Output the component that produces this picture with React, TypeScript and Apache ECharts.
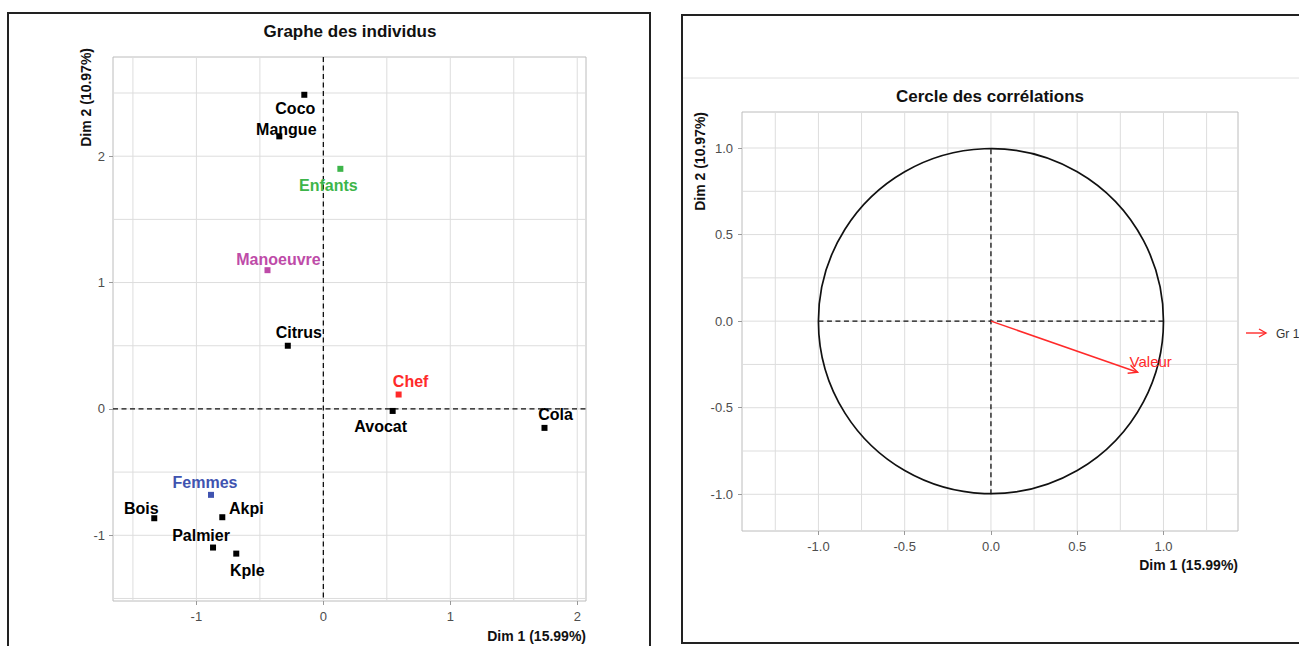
import React, { useEffect, useRef } from "react";
import * as echarts from "echarts";

// ---------- data ----------
const individuals = ["Coco", "Mangue", "Citrus", "Avocat", "Cola", "Bois", "Akpi", "Palmier", "Kple"];
const indDim1 = [-0.15, -0.347, -0.28, 0.546, 1.742, -1.332, -0.796, -0.869, -0.686];
const indDim2 = [2.486, 2.157, 0.5, -0.016, -0.15, -0.865, -0.857, -1.097, -1.145];

const groups = ["Enfants", "Manoeuvre", "Chef", "Femmes"];
const grpDim1 = [0.134, -0.44, 0.593, -0.885];
const grpDim2 = [1.9, 1.098, 0.114, -0.68];

const indTicksX = [-1, 0, 1, 2];
const indTicksY = [-1, 0, 1, 2];
const indGridX = [-1.5, -1, -0.5, 0, 0.5, 1, 1.5, 2];
const indGridY = [-1.5, -1, -0.5, 0, 0.5, 1, 1.5, 2, 2.5];
const zeroLine = [0];

const varNames = ["Valeur"];
const varDim1 = [0.85];
const varDim2 = [-0.295];
const circleRadius = [1];
const corTicks = [-1, -0.5, 0, 0.5, 1];
const corGridX = [-1.25, -1, -0.75, -0.5, -0.25, 0, 0.25, 0.5, 0.75, 1, 1.25];
const corGridY = [-1, -0.75, -0.5, -0.25, 0, 0.25, 0.5, 0.75, 1];
const corAxisSegments = [
  [-1, 0, 1, 0],
  [0, -1, 0, 1],
];
const legendLabels = ["Gr 1"];

// ---------- styles ----------
const FONT = '"Liberation Sans", Arial, Helvetica, sans-serif';
const groupColors = ["#3DB54A", "#BE4BA8", "#FF2A2A", "#4053B0"];
const RED = "#FF2A2A";
const indLabelOffsets = [
  [-9, 14], [7, -7], [11, -13], [-12, 16], [11, -13], [-13, -10], [24, -9], [-12, -12], [11, 17],
];
const grpLabelOffsets = [[-12, 17], [11, -11], [12, -13], [-6, -12]];
const GRID_STYLE = { stroke: "#dddddd", lineWidth: 1 };
const DASH_STYLE = { stroke: "#111", lineWidth: 1.3, lineDash: [5, 3.5] };

function vLines(ax: number, values: number[], style: any, z = 1) {
  return {
    type: "custom",
    xAxisIndex: ax,
    yAxisIndex: ax,
    silent: true,
    z,
    data: values.map((v) => [v, 0]),
    renderItem: (params: any, api: any) => {
      const cs = params.coordSys;
      const x = api.coord([api.value(0), 0])[0];
      return { type: "line", shape: { x1: x, y1: cs.y, x2: x, y2: cs.y + cs.height }, style };
    },
  };
}
function hLines(ax: number, values: number[], style: any, z = 1) {
  return {
    type: "custom",
    xAxisIndex: ax,
    yAxisIndex: ax,
    silent: true,
    z,
    data: values.map((v) => [0, v]),
    renderItem: (params: any, api: any) => {
      const cs = params.coordSys;
      const y = api.coord([0, api.value(1)])[1];
      return { type: "line", shape: { x1: cs.x, y1: y, x2: cs.x + cs.width, y2: y }, style };
    },
  };
}

function axisCommon(ticks: number[], fmt: (v: number) => string, margin: number) {
  return {
    type: "value",
    axisLine: { show: false, onZero: false },
    splitLine: { show: false },
    axisTick: { show: true, customValues: ticks, length: 4, lineStyle: { color: "#999" } },
    axisLabel: {
      customValues: ticks,
      color: "#4d4d4d",
      fontSize: 13,
      fontFamily: FONT,
      margin,
      formatter: (v: number) => fmt(v),
    },
  };
}

export default function App() {
  const ref = useRef<HTMLDivElement>(null);
  useEffect(() => {
    if (!ref.current) return;
    const chart = echarts.init(ref.current, null, { renderer: "svg" });
    const intFmt = (v: number) => String(Math.round(v));
    const decFmt = (v: number) => v.toFixed(1);

    const option: any = {
      animation: false,
      backgroundColor: "#fff",
      textStyle: { fontFamily: FONT },
      grid: [
        { left: 113, top: 57, width: 473, height: 544, show: true, borderColor: "#bcbcbc", borderWidth: 1, backgroundColor: "transparent" },
        { left: 742, top: 112, width: 496, height: 419, show: true, borderColor: "#bcbcbc", borderWidth: 1, backgroundColor: "transparent" },
      ],
      xAxis: [
        { ...axisCommon(indTicksX, intFmt, 9), gridIndex: 0, min: -1.657, max: 2.069 },
        { ...axisCommon(corTicks, decFmt, 9), gridIndex: 1, min: -1.443, max: 1.432 },
      ],
      yAxis: [
        { ...axisCommon(indTicksY, intFmt, 8), gridIndex: 0, min: -1.52, max: 2.785 },
        { ...axisCommon(corTicks, decFmt, 9), gridIndex: 1, min: -1.212, max: 1.208 },
      ],
      series: [
        vLines(0, indGridX, GRID_STYLE),
        hLines(0, indGridY, GRID_STYLE),
        vLines(0, zeroLine, DASH_STYLE, 2),
        hLines(0, zeroLine, DASH_STYLE, 2),
        vLines(1, corGridX, GRID_STYLE),
        hLines(1, corGridY, GRID_STYLE),
        {
          type: "custom",
          xAxisIndex: 1,
          yAxisIndex: 1,
          silent: true,
          z: 2,
          encode: { x: [0, 2], y: [1, 3] },
          data: corAxisSegments,
          renderItem: (params: any, api: any) => {
            const a = api.coord([api.value(0), api.value(1)]);
            const b = api.coord([api.value(2), api.value(3)]);
            return { type: "line", shape: { x1: a[0], y1: a[1], x2: b[0], y2: b[1] }, style: DASH_STYLE };
          },
        },
        {
          type: "custom",
          xAxisIndex: 1,
          yAxisIndex: 1,
          silent: true,
          z: 3,
          data: circleRadius.map((r) => [0, 0, r]),
          renderItem: (params: any, api: any) => {
            const c = api.coord([api.value(0), api.value(1)]);
            const r = api.size([api.value(2), 0])[0];
            return { type: "circle", shape: { cx: c[0], cy: c[1], r }, style: { fill: "none", stroke: "#111", lineWidth: 1.7 } };
          },
        },
        {
          type: "custom",
          xAxisIndex: 1,
          yAxisIndex: 1,
          silent: true,
          z: 5,
          data: varNames.map((n, i) => [varDim1[i], varDim2[i]]),
          renderItem: (params: any, api: any) => {
            const o = api.coord([0, 0]);
            const t = api.coord([api.value(0), api.value(1)]);
            const ang = Math.atan2(t[1] - o[1], t[0] - o[0]);
            const L = 10;
            const a = Math.PI / 7;
            const p1 = [t[0] - L * Math.cos(ang - a), t[1] - L * Math.sin(ang - a)];
            const p2 = [t[0] - L * Math.cos(ang + a), t[1] - L * Math.sin(ang + a)];
            return {
              type: "group",
              children: [
                { type: "line", shape: { x1: o[0], y1: o[1], x2: t[0], y2: t[1] }, style: { stroke: RED, lineWidth: 1.5 } },
                { type: "polyline", shape: { points: [p1, t, p2] }, style: { stroke: RED, lineWidth: 1.5, fill: "none" } },
                {
                  type: "text",
                  x: t[0] - 8,
                  y: t[1] - 11,
                  style: {
                    text: varNames[params.dataIndex],
                    fill: RED,
                    font: `15px ${FONT}`,
                    align: "left",
                    verticalAlign: "middle",
                    textAlign: "left",
                    textVerticalAlign: "middle",
                  },
                },
              ],
            };
          },
        },
        {
          type: "scatter",
          xAxisIndex: 0,
          yAxisIndex: 0,
          z: 5,
          symbol: "rect",
          symbolSize: 6,
          itemStyle: { color: "#000", opacity: 1 },
          label: {
            show: true,
            position: "inside",
            formatter: "{b}",
            color: "#000",
            fontSize: 16,
            fontWeight: "bold",
            fontFamily: FONT,
          },
          data: individuals.map((n, i) => ({
            name: n,
            value: [indDim1[i], indDim2[i]],
            label: { offset: indLabelOffsets[i] },
          })),
        },
        {
          type: "scatter",
          xAxisIndex: 0,
          yAxisIndex: 0,
          z: 5,
          symbol: "rect",
          symbolSize: 6,
          itemStyle: { opacity: 1 },
          label: {
            show: true,
            position: "inside",
            formatter: "{b}",
            fontSize: 16,
            fontWeight: "bold",
            fontFamily: FONT,
          },
          data: groups.map((n, i) => ({
            name: n,
            value: [grpDim1[i], grpDim2[i]],
            itemStyle: { color: groupColors[i], opacity: 1 },
            label: { offset: grpLabelOffsets[i], color: groupColors[i] },
          })),
        },
      ],
      graphic: [
        { type: "rect", silent: true, shape: { x: 8, y: 13, width: 642, height: 700 }, style: { fill: "none", stroke: "#222", lineWidth: 2 } },
        { type: "rect", silent: true, shape: { x: 682, y: 15, width: 700, height: 628 }, style: { fill: "none", stroke: "#222", lineWidth: 2 } },
        { type: "line", silent: true, shape: { x1: 683, y1: 78, x2: 1299, y2: 78 }, style: { stroke: "#e0e0e0", lineWidth: 1 } },
        {
          type: "text", x: 350, y: 31,
          style: { text: "Graphe des individus", font: `bold 17px ${FONT}`, fill: "#111", align: "center", verticalAlign: "middle", textAlign: "center", textVerticalAlign: "middle" },
        },
        {
          type: "text", x: 990, y: 96,
          style: { text: "Cercle des corrélations", font: `bold 17px ${FONT}`, fill: "#111", align: "center", verticalAlign: "middle", textAlign: "center", textVerticalAlign: "middle" },
        },
        {
          type: "text", x: 586, y: 636,
          style: { text: "Dim 1 (15.99%)", font: `bold 14px ${FONT}`, fill: "#111", align: "right", verticalAlign: "middle", textAlign: "right", textVerticalAlign: "middle" },
        },
        {
          type: "text", x: 1238, y: 565,
          style: { text: "Dim 1 (15.99%)", font: `bold 14px ${FONT}`, fill: "#111", align: "right", verticalAlign: "middle", textAlign: "right", textVerticalAlign: "middle" },
        },
        {
          type: "text", x: 86, y: 48, rotation: Math.PI / 2,
          style: { text: "Dim 2 (10.97%)", font: `bold 14px ${FONT}`, fill: "#111", align: "right", verticalAlign: "middle", textAlign: "right", textVerticalAlign: "middle" },
        },
        {
          type: "text", x: 700, y: 112, rotation: Math.PI / 2,
          style: { text: "Dim 2 (10.97%)", font: `bold 14px ${FONT}`, fill: "#111", align: "right", verticalAlign: "middle", textAlign: "right", textVerticalAlign: "middle" },
        },
        { type: "line", silent: true, shape: { x1: 1246, y1: 333, x2: 1266, y2: 333 }, style: { stroke: RED, lineWidth: 1.4 } },
        { type: "polyline", silent: true, shape: { points: [[1259, 329], [1266, 333], [1259, 337]] }, style: { stroke: RED, lineWidth: 1.4, fill: "none" } },
        {
          type: "text", x: 1276, y: 334,
          style: { text: legendLabels[0], font: `12px ${FONT}`, fill: "#333", align: "left", verticalAlign: "middle", textAlign: "left", textVerticalAlign: "middle" },
        },
      ],
    };
    chart.setOption(option);
    return () => chart.dispose();
  }, []);

  return (
    <div
      ref={ref}
      style={{ position: "fixed", left: 0, top: 0, width: 1299, height: 646, background: "#fff", overflow: "hidden" }}
    />
  );
}
